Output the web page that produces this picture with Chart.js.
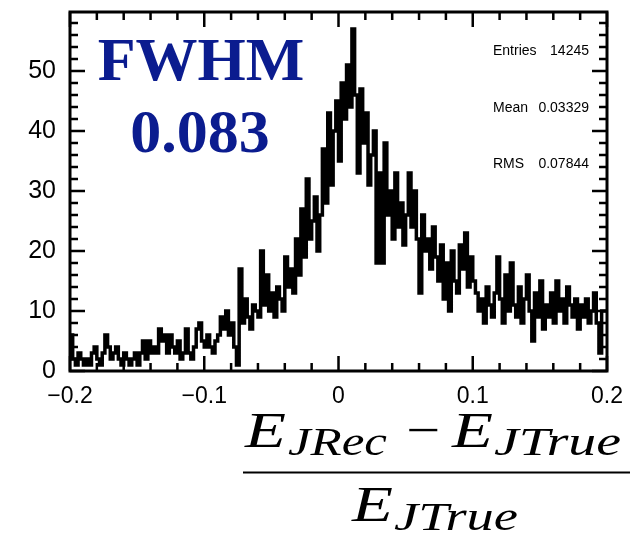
<!DOCTYPE html>
<html>
<head>
<meta charset="utf-8">
<script src="https://cdn.jsdelivr.net/npm/chart.js@4/dist/chart.umd.min.js"></script>
<style>
  html, body { margin: 0; padding: 0; background: #fff; }
  #wrap { position: relative; width: 631px; height: 536px; }
  #histChart { position: absolute; left: 0; top: 0; }
  #overlay { position: absolute; left: 0; top: 0; pointer-events: none; }
</style>
</head>
<body>
<div id="wrap">
  <canvas id="histChart" width="631" height="536"></canvas>
  <svg id="overlay" width="631" height="536" xmlns="http://www.w3.org/2000/svg">
    <g font-family="Liberation Serif, Times New Roman, serif" font-weight="bold" font-size="62" fill="#0b1c8f" text-anchor="middle">
      <text x="201" y="80">FWHM</text>
      <text x="200" y="152">0.083</text>
    </g>
    <g font-family="Liberation Sans, Arial, sans-serif" font-size="14" fill="#000">
      <text x="493" y="55">Entries</text>
      <text x="589" y="55" text-anchor="end">14245</text>
      <text x="493" y="112">Mean</text>
      <text x="589" y="112" text-anchor="end">0.03329</text>
      <text x="493" y="168">RMS</text>
      <text x="589" y="168" text-anchor="end">0.07844</text>
    </g>
    <g font-family="Liberation Serif, Times New Roman, serif" font-style="italic" fill="#000">
      <text x="245" y="447" font-size="50" textLength="41" lengthAdjust="spacingAndGlyphs">E</text>
      <text x="288" y="455" font-size="39" textLength="99" lengthAdjust="spacingAndGlyphs">JRec</text>
      <text x="406" y="446" font-size="48" font-style="normal" textLength="34" lengthAdjust="spacingAndGlyphs">−</text>
      <text x="452" y="447" font-size="50" textLength="41" lengthAdjust="spacingAndGlyphs">E</text>
      <text x="494" y="455" font-size="39" textLength="127" lengthAdjust="spacingAndGlyphs">JTrue</text>
      <text x="352" y="521" font-size="50" textLength="41" lengthAdjust="spacingAndGlyphs">E</text>
      <text x="394" y="530" font-size="39" textLength="124" lengthAdjust="spacingAndGlyphs">JTrue</text>
    </g>
    <rect x="243" y="471.5" width="387" height="2" fill="#000"/>
  </svg>
</div>
<script>
// histogram binning
const xMin = -0.2;
const xMax = 0.2;
const binWidth = 0.002;

// bin contents (200 bins)
const counts = [
    3, 6, 2, 1, 3, 2, 1, 2, 1, 3, 4, 2,
    1, 3, 6, 4, 2, 3, 4, 2, 1, 3, 2, 1,
    2, 3, 1, 3, 5, 2, 5, 3, 4, 3,
    7, 5, 6, 3, 6, 4, 3, 5, 2, 3, 7,
    3, 2, 4, 7, 8, 5, 4, 6, 4, 3, 5, 6,
    9, 7, 10, 6, 8, 4, 1,
    17,
    8, 12, 9, 7, 11, 10, 9,
    20,
    11, 16, 10, 13, 9, 14, 12, 10,
    19, 14, 17, 13, 22, 16,
    27, 19,
    32, 22, 25,
    29, 20, 26,
    37, 28,
    43, 31,
    40, 45, 35,
    48, 42, 51, 44, 57,
    46, 33, 47, 38,
    43, 31, 36, 40,
    18, 33, 18,
    38, 26, 30, 22,
    33, 24, 28,
    21, 26, 33, 24, 30, 22,
    13, 26, 20,
    22, 17, 24, 19, 15, 21,
    12, 18, 10, 20, 15, 13,
    21, 17, 23, 14, 19, 15, 13,
    10, 12, 8, 14, 11, 9, 13,
    19, 12, 8, 16, 10, 18, 11, 9,
    14, 8, 12, 16, 10, 5, 13, 9, 15, 7, 11,
    9, 13, 8, 15, 10, 12, 8, 14, 11, 9,
    12, 7, 11, 9, 12, 8, 10,
    13, 8, 3, 10
];

const yMax = 59.85;
const xTickStep = 0.1;
const xMinorStep = 0.02;
const yTickStep = 10;
const yMinorStep = 2;

// step points at bin low edges, plus closing point at upper edge
const getHistPoints = function (values) {
    let pts = [];
    for (var i = 0; i < values.length; i++) {
        pts.push({ x: xMin + i * binWidth, y: values[i] });
    }
    pts.push({ x: xMax, y: values[values.length - 1] });
    return pts;
};

const fmtX = function (v) {
    let r = Math.round(v * 10) / 10;
    if (r === 0) return '0';
    return String(r).replace('-', '\u2212');
};

// no extra label padding, so the frame sits where it should
const noScalePadding = function (scale) {
    scale.paddingTop = 0;
    scale.paddingBottom = 0;
    scale.paddingLeft = 0;
    scale.paddingRight = 0;
};

// ROOT-like frame with ticks pointing inside
const framePlugin = {
    id: 'frame',
    afterDatasetsDraw(chart) {
        const ctx = chart.ctx;
        const a = chart.chartArea;
        const sx = chart.scales.x;
        const sy = chart.scales.y;
        ctx.save();
        ctx.strokeStyle = '#000';
        ctx.lineWidth = 2.5;
        ctx.beginPath();
        const nx = Math.round((xMax - xMin) / xMinorStep);
        for (let i = 0; i <= nx; i++) {
            const v = xMin + i * xMinorStep;
            const px = sx.getPixelForValue(v);
            const len = (i % Math.round(xTickStep / xMinorStep) === 0) ? 15 : 8;
            ctx.moveTo(px, a.bottom); ctx.lineTo(px, a.bottom - len);
            ctx.moveTo(px, a.top); ctx.lineTo(px, a.top + len);
        }
        for (let v = 0; v <= yMax; v += yMinorStep) {
            const py = sy.getPixelForValue(v);
            const len = (v % yTickStep === 0) ? 15 : 8;
            ctx.moveTo(a.left, py); ctx.lineTo(a.left + len, py);
            ctx.moveTo(a.right, py); ctx.lineTo(a.right - len, py);
        }
        ctx.stroke();
        ctx.lineWidth = 3;
        ctx.strokeRect(a.left, a.top, a.right - a.left, a.bottom - a.top);
        ctx.restore();
    }
};

const histChart = new Chart(document.getElementById('histChart'), {
    type: 'line',
    data: {
        datasets: [{
            data: getHistPoints(counts),
            stepped: 'after',
            borderColor: '#000',
            borderWidth: 3.5,
            pointRadius: 0,
            fill: false
        }]
    },
    options: {
        responsive: false,
        animation: false,
        layout: { padding: { left: 0, top: 12, right: 24, bottom: 0 } },
        plugins: {
            legend: { display: false },
            tooltip: { enabled: false }
        },
        scales: {
            x: {
                type: 'linear',
                min: xMin,
                max: xMax,
                grid: { display: false },
                border: { display: false },
                afterFit: function (scale) { scale.height = 165; noScalePadding(scale); },
                ticks: {
                    stepSize: xTickStep,
                    includeBounds: false,
                    padding: 4,
                    color: '#000',
                    maxRotation: 0,
                    autoSkip: false,
                    font: { family: 'Liberation Sans', size: 23 },
                    callback: fmtX
                }
            },
            y: {
                min: 0,
                max: yMax,
                grid: { display: false },
                border: { display: false },
                afterFit: function (scale) { scale.width = 70; noScalePadding(scale); },
                ticks: {
                    stepSize: yTickStep,
                    includeBounds: false,
                    padding: 6,
                    color: '#000',
                    font: { family: 'Liberation Sans', size: 25 },
                    callback: function (v) { return (v % yTickStep === 0) ? String(v) : ''; }
                }
            }
        }
    },
    plugins: [framePlugin]
});
</script>
</body>
</html>
